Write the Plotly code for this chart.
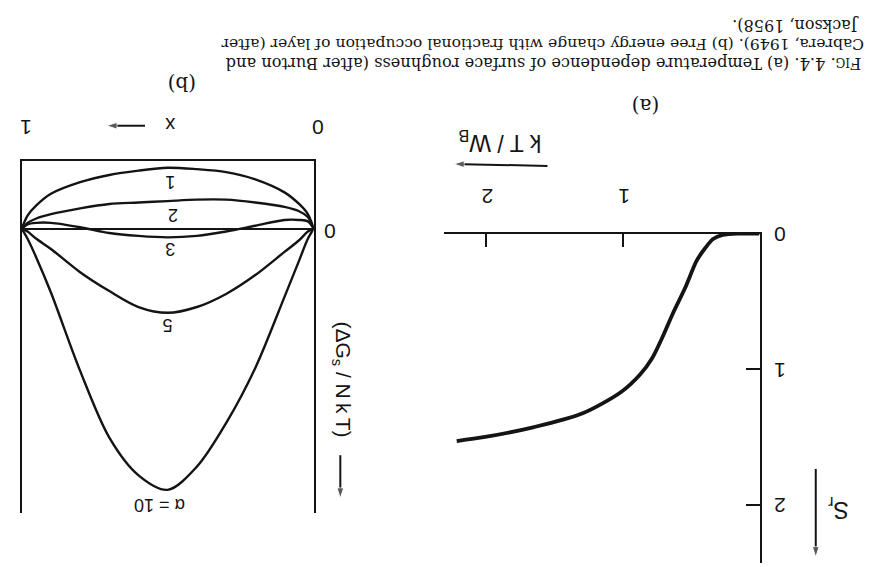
import plotly.graph_objects as go

W, H = 880, 567

# ---- (a) surface roughness S_r against reduced temperature kT/W_B ----
kt_wb = [0.0, 0.15, 0.27, 0.34, 0.40, 0.46, 0.544, 0.636, 0.70, 0.786,
         0.874, 1.013, 1.294, 1.65, 2.008, 2.216]
s_r = [0.0, 0.0, 0.01, 0.04, 0.11, 0.20, 0.40, 0.593, 0.741, 0.919,
       1.039, 1.168, 1.325, 1.427, 1.50, 1.53]
a_xticks = [1, 2]
a_yticks = [0, 1, 2]

# ---- (b) free energy change dG_s/NkT against layer occupation x ----
x_frac = [0, 0.02, 0.05, 0.1, 0.2, 0.3, 0.4, 0.5, 0.6, 0.7, 0.8, 0.9, 0.95, 0.98, 1]
alpha_labels = ["1", "2", "3", "5", "\u03b1 = 10"]
dg_a1 = [0, -0.10, -0.17, -0.25, -0.34, -0.39, -0.41, -0.42, -0.40, -0.37, -0.32, -0.24, -0.16, -0.09, 0]
dg_a2 = [0, -0.08, -0.12, -0.15, -0.18, -0.20, -0.20, -0.19, -0.18, -0.17, -0.14, -0.10, -0.07, -0.04, 0]
dg_a3 = [0, -0.05, -0.06, -0.06, -0.02, 0.02, 0.05, 0.06, 0.05, 0.03, -0.01, -0.04, -0.04, -0.03, 0]
dg_a5 = [0, 0.02, 0.08, 0.16, 0.32, 0.45, 0.54, 0.58, 0.54, 0.43, 0.30, 0.14, 0.07, 0.02, 0]
dg_a10 = [0, 0.07, 0.22, 0.47, 0.96, 1.34, 1.64, 1.80, 1.70, 1.44, 0.98, 0.44, 0.20, 0.07, 0]
dg_curves = [dg_a1, dg_a2, dg_a3, dg_a5, dg_a10]
# where each curve carries its label (x, dG)
label_x = [0.49, 0.48, 0.49, 0.50, 0.53]
label_y = [-0.32, -0.095, 0.14, 0.66, 1.90]
b_xticks = [0, 1]
b_yticks = [0]

caption = [
    "F<span style='font-size:12px'>IG</span>. 4.4. (a) Temperature dependence of surface roughness (after Burton and",
    "Cabrera, 1949). (b) Free energy change with fractional occupation of layer (after",
    "Jackson, 1958).",
]

INK = "#141414"
SANS = "Liberation Sans, Arial, sans-serif"
SERIF = "DejaVu Serif, serif"


def px(x):
    return x / W


def py(y):
    return 1 - y / H


fig = go.Figure()

fig.add_trace(go.Scatter(
    x=kt_wb, y=s_r, mode="lines", line=dict(color=INK, width=3.8, shape="spline", smoothing=0.8),
    xaxis="x", yaxis="y", showlegend=False, hoverinfo="skip"))

for ys in dg_curves:
    fig.add_trace(go.Scatter(
        x=x_frac, y=ys, mode="lines", line=dict(color=INK, width=2.4, shape="spline", smoothing=0.9),
        xaxis="x2", yaxis="y2", showlegend=False, hoverinfo="skip"))

# direction arrows beside the axis titles, on a page-sized overlay (pixel units)
arrows = [((553, 158), (458, 156)), ((825, 467), (825, 557)),
          ((145, 117), (106, 117)), ((343, 453), (343, 497))]
for (tx, ty), (hx, hy) in arrows:
    fig.add_trace(go.Scatter(
        x=[tx, hx], y=[ty, hy], mode="lines+markers", xaxis="x3", yaxis="y3",
        line=dict(color=INK, width=2),
        marker=dict(symbol="arrow", size=[0, 11], angleref="previous", color=INK),
        showlegend=False, hoverinfo="skip"))

tick_font = dict(family=SANS, size=21, color=INK)

fig.update_layout(
    width=W, height=H, autosize=False,
    margin=dict(l=0, r=0, t=0, b=0),
    paper_bgcolor="white", plot_bgcolor="rgba(0,0,0,0)",
    xaxis=dict(domain=[px(448), px(768)], range=[2.31, 0], side="top", anchor="y",
               showline=True, linecolor=INK, linewidth=2, showgrid=False, zeroline=False,
               ticks="inside", ticklen=13, tickwidth=2, tickcolor=INK,
               tickvals=a_xticks, ticktext=[str(v) for v in a_xticks],
               tickangle=180, tickfont=tick_font, ticklabelstandoff=13, ticklabelshift=-7),
    yaxis=dict(domain=[py(563), py(227)], range=[2.43, 0], side="right", anchor="x",
               showline=True, linecolor=INK, linewidth=2, showgrid=False, zeroline=False,
               ticks="inside", ticklen=14, tickwidth=2, tickcolor=INK,
               tickvals=a_yticks, ticktext=[str(v) for v in a_yticks],
               tickangle=180, tickfont=tick_font, ticklabelstandoff=20, ticklabelshift=-7),
    xaxis2=dict(domain=[px(20), px(316)], range=[1, 0], side="top", anchor="y2",
                showline=True, linecolor=INK, linewidth=1.6, showgrid=False, zeroline=False,
                ticks="", tickvals=b_xticks, ticktext=[str(v) for v in b_xticks],
                tickangle=180, tickfont=tick_font, ticklabelstandoff=10, ticklabelshift=-10),
    yaxis2=dict(domain=[py(512), py(153)], range=[1.96, -0.466], side="right", anchor="x2",
                showline=True, mirror=True, linecolor=INK, linewidth=1.6, showgrid=False,
                zeroline=True, zerolinecolor=INK, zerolinewidth=1.6,
                ticks="", tickvals=b_yticks, ticktext=[str(v) for v in b_yticks],
                tickangle=180, tickfont=tick_font, ticklabelstandoff=16, ticklabelshift=-9),
    xaxis3=dict(domain=[0, 1], range=[0, W], visible=False, fixedrange=True, anchor="y3"),
    yaxis3=dict(domain=[0, 1], range=[H, 0], visible=False, fixedrange=True, anchor="x3"),
)

ann = []


def note(x, y, text, font, angle=180, xanchor="center", yanchor="middle"):
    ann.append(dict(x=px(x), y=py(y), xref="paper", yref="paper", text=text,
                    showarrow=False, textangle=angle, xanchor=xanchor, yanchor=yanchor,
                    font=font))


# curve labels of panel (b)
for lab, lx, ly in zip(alpha_labels, label_x, label_y):
    ann.append(dict(x=lx, y=ly, xref="x2", yref="y2", text=lab, showarrow=False,
                    textangle=180, xanchor="center", yanchor="middle",
                    font=dict(family=SANS, size=18, color=INK)))

# axis titles
note(505, 133, "k T / W<sub>B</sub>", dict(family=SANS, size=23, color=INK))
note(848, 508, "S<sub>r</sub>", dict(family=SANS, size=23, color=INK))
note(171, 117, "x", dict(family=SANS, size=20, color=INK))
note(345, 376, "(\u0394G<sub>s</sub> / N\u2009k\u2009T)", dict(family=SANS, size=21, color=INK), angle=90)

# panel letters
note(652, 97, "(a)", dict(family=SERIF, size=20, color=INK))
note(183, 75, "(b)", dict(family=SERIF, size=20, color=INK))

# caption lines, flush at the page edge where each line begins
note(873, 53, caption[0], dict(family=SERIF, size=16.2, color=INK), xanchor="right")
note(876, 33, caption[1], dict(family=SERIF, size=15.6, color=INK), xanchor="right")
note(871, 15, caption[2], dict(family=SERIF, size=16, color=INK), xanchor="right")

fig.update_layout(annotations=ann)

fig.write_html("out.html")
